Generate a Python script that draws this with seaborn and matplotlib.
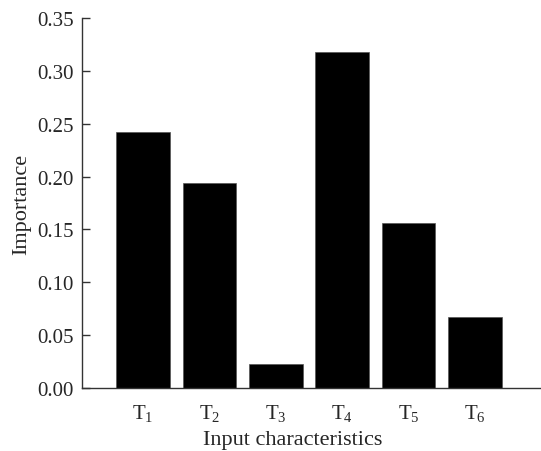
import matplotlib
matplotlib.use("Agg")
import matplotlib.pyplot as plt
import seaborn as sns
import pandas as pd

categories = ["T1", "T2", "T3", "T4", "T5", "T6"]
tick_labels = [r"$\mathrm{T}_{1}$", r"$\mathrm{T}_{2}$", r"$\mathrm{T}_{3}$",
               r"$\mathrm{T}_{4}$", r"$\mathrm{T}_{5}$", r"$\mathrm{T}_{6}$"]
importance = [0.242, 0.194, 0.023, 0.318, 0.156, 0.067]
y_ticks = [0.00, 0.05, 0.10, 0.15, 0.20, 0.25, 0.30, 0.35]

sns.set_style("ticks")
plt.rcParams["font.family"] = ["Liberation Serif", "DejaVu Serif"]
plt.rcParams["mathtext.fontset"] = "custom"
plt.rcParams["mathtext.rm"] = "Liberation Serif"
plt.rcParams["mathtext.it"] = "Liberation Serif:italic"

df = pd.DataFrame({"cat": categories, "imp": importance})

fig = plt.figure(figsize=(5.41, 4.52), dpi=100)
ax = fig.add_axes([0.1516, 0.1394, 0.8466, 0.8186])
sns.barplot(data=df, x="cat", y="imp", color="black", width=0.81,
            saturation=1, edgecolor="#555555", linewidth=0.5, ax=ax)

ax.set_xlim(-0.92, 5.98)
ax.set_ylim(0, 0.35)
ax.set_yticks(y_ticks)
ax.set_yticklabels([f"{v:.2f}" for v in y_ticks])
ax.set_xticks(range(len(categories)))
ax.set_xticklabels(tick_labels)
ax.tick_params(axis="y", direction="in", length=6, width=1, labelsize=15, pad=6, color="#333333")
ax.tick_params(axis="x", length=0, labelsize=15, pad=10)
for s in ["top", "right"]:
    ax.spines[s].set_visible(False)
for s in ["left", "bottom"]:
    ax.spines[s].set_linewidth(1.0)
    ax.spines[s].set_color("#333333")
ax.set_xlabel("Input characteristics", fontsize=16)
ax.xaxis.set_label_coords(0.46, -0.113)
ax.set_ylabel("Importance", fontsize=16, labelpad=4)

fig.savefig("out.png", dpi=100)
